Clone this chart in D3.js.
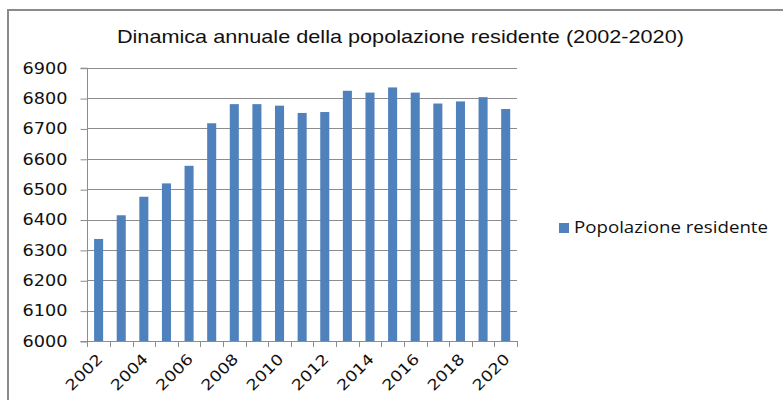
<!DOCTYPE html>
<html>
<head>
<meta charset="utf-8">
<script src="https://cdn.jsdelivr.net/npm/d3@7"></script>
<style>
  html, body { margin: 0; padding: 0; background: #fff; }
  svg { display: block; }
</style>
</head>
<body>
<svg id="chart" width="783" height="400"></svg>
<script>
// Resident population by year
const years = [2002, 2003, 2004, 2005, 2006, 2007, 2008, 2009, 2010, 2011,
               2012, 2013, 2014, 2015, 2016, 2017, 2018, 2019, 2020];
const population = [6336, 6414, 6475, 6519, 6577, 6717, 6780, 6780, 6775, 6751,
                    6754, 6824, 6818, 6835, 6818, 6782, 6789, 6803, 6764];
const yTicks = [6000, 6100, 6200, 6300, 6400, 6500, 6600, 6700, 6800, 6900];
const xTickLabels = [2002, 2004, 2006, 2008, 2010, 2012, 2014, 2016, 2018, 2020];
const titleText = "Dinamica annuale della popolazione residente (2002-2020)";
const seriesName = "Popolazione residente";

const svg = d3.select("#chart");
const barColor = "#4F81BD";
const gridColor = "#8C8C8C";
const tickFont = "'DejaVu Sans', Verdana, sans-serif";

const plot = { left: 87.3, right: 517, top: 67.7, bottom: 341 };

// Outer frame (open on the right and bottom edges of the view)
svg.append("rect")
  .attr("x", 8).attr("y", 10)
  .attr("width", 820).attr("height", 420)
  .attr("fill", "none")
  .attr("stroke", "#8a8a8a")
  .attr("stroke-width", 2);

// Title
svg.append("text")
  .attr("x", 400.4).attr("y", 42.7)
  .attr("text-anchor", "middle")
  .attr("font-family", "'Liberation Sans', Arial, sans-serif")
  .attr("font-size", 18.6)
  .attr("fill", "#111")
  .attr("textLength", 567)
  .attr("lengthAdjust", "spacingAndGlyphs")
  .text(titleText);

const x = d3.scaleBand()
  .domain(years)
  .range([plot.left, plot.right])
  .paddingInner(0.6)
  .paddingOuter(0.3);

const y = d3.scaleLinear()
  .domain([6000, 6900])
  .range([plot.bottom, plot.top]);

// Horizontal gridlines
svg.append("g")
  .selectAll("line")
  .data(yTicks.slice(1))
  .join("line")
  .attr("x1", plot.left).attr("x2", plot.right)
  .attr("y1", d => Math.round(y(d)) + 0.5)
  .attr("y2", d => Math.round(y(d)) + 0.5)
  .attr("stroke", gridColor)
  .attr("stroke-width", 1);

// Bars
svg.append("g")
  .selectAll("rect")
  .data(years)
  .join("rect")
  .attr("x", (d) => x(d))
  .attr("width", x.bandwidth())
  .attr("y", (d, i) => y(population[i]))
  .attr("height", (d, i) => y(6000) - y(population[i]))
  .attr("fill", barColor);

// Y axis
const yAxis = d3.axisLeft(y)
  .tickValues(yTicks)
  .tickSize(7)
  .tickPadding(13)
  .tickFormat(d3.format("d"));

const gy = svg.append("g")
  .attr("transform", `translate(${Math.round(plot.left) + 0.5},0.5)`)
  .call(yAxis);
gy.select(".domain").attr("stroke", gridColor).attr("d", `M-7,${y(6900)}H0V${y(6000)}H-7`);
gy.selectAll(".tick line").attr("stroke", gridColor);
gy.selectAll(".tick text")
  .attr("font-family", tickFont)
  .attr("font-size", 15)
  .attr("fill", "#111")
  .attr("textLength", 45)
  .attr("lengthAdjust", "spacingAndGlyphs");

// X axis: baseline and category boundary ticks
const step = x.step();
const boundaries = d3.range(years.length + 1).map(i => plot.left + i * step);
const gx = svg.append("g");
gx.append("line")
  .attr("x1", plot.left).attr("x2", plot.right)
  .attr("y1", Math.round(plot.bottom) + 0.5).attr("y2", Math.round(plot.bottom) + 0.5)
  .attr("stroke", gridColor);
gx.selectAll("line.b")
  .data(boundaries)
  .join("line")
  .attr("class", "b")
  .attr("x1", d => Math.round(d) + 0.5).attr("x2", d => Math.round(d) + 0.5)
  .attr("y1", Math.round(plot.bottom)).attr("y2", Math.round(plot.bottom) + 6)
  .attr("stroke", gridColor);

// Rotated year labels
gx.selectAll("text")
  .data(xTickLabels)
  .join("text")
  .attr("transform", d => `translate(${x(d) + x.bandwidth() / 2 + 5},${plot.bottom + 19}) rotate(-45)`)
  .attr("text-anchor", "end")
  .attr("font-family", tickFont)
  .attr("font-size", 15)
  .attr("fill", "#111")
  .attr("textLength", 45)
  .attr("lengthAdjust", "spacingAndGlyphs")
  .text(d => d);

// Legend
const legend = svg.append("g");
legend.append("rect")
  .attr("x", 559).attr("y", 223)
  .attr("width", 10).attr("height", 10)
  .attr("fill", barColor);
legend.append("text")
  .attr("x", 574).attr("y", 232.7)
  .attr("font-family", "'Open Sans', sans-serif")
  .attr("font-size", 16.4)
  .attr("fill", "#111")
  .attr("textLength", 194)
  .attr("lengthAdjust", "spacingAndGlyphs")
  .text(seriesName);
</script>
</body>
</html>
